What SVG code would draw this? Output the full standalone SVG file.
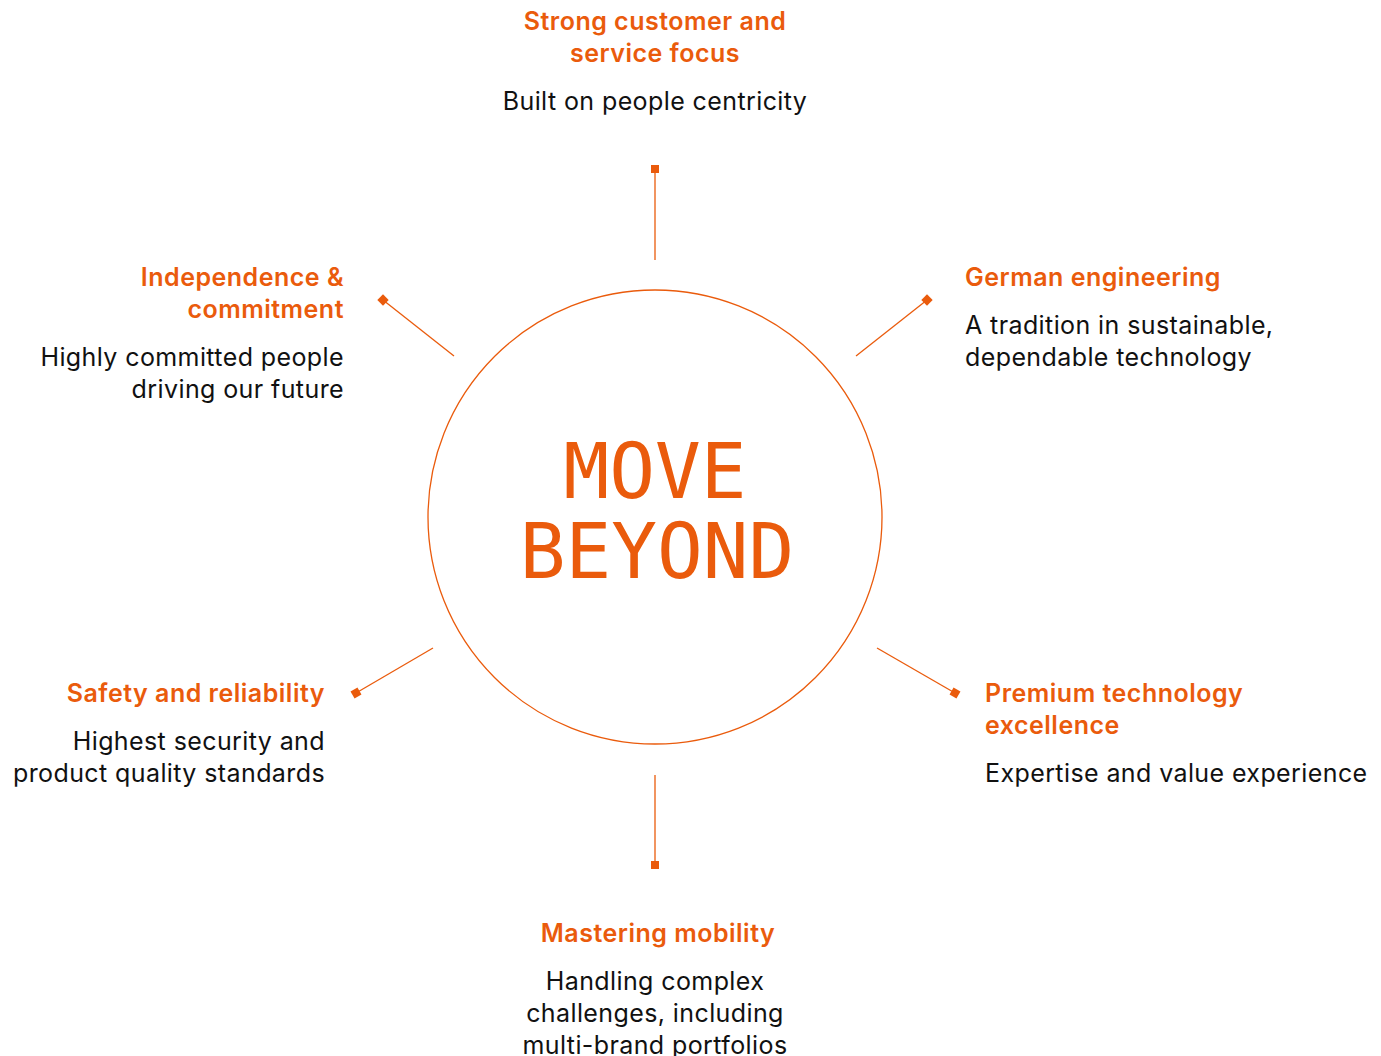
<svg xmlns="http://www.w3.org/2000/svg" width="1381" height="1056" viewBox="0 0 1381 1056">
  <style>
    .head { font-family: Inter, "Noto Sans", "Liberation Sans", sans-serif; font-size: 25px; font-weight: 600; letter-spacing: 0.5px; fill: #EA5B0C; }
    .body { font-family: Inter, "Noto Sans", "Liberation Sans", sans-serif; font-size: 25px; font-weight: 400; letter-spacing: 0.4px; fill: #111111; }
    .mid { text-anchor: middle; }
    .end { text-anchor: end; }
    .title { font-family: "DejaVu Sans Mono", "Liberation Mono", monospace; font-size: 76px; fill: #EA5B0C; text-anchor: middle; }
    .spoke { stroke: #EA5B0C; stroke-width: 1.3; fill: none; }
    .tip { fill: #EA5B0C; }
  </style>

  <!-- central hub -->
  <g id="hub">
    <circle cx="655" cy="517" r="227" fill="none" stroke="#EA5B0C" stroke-width="1.3"/>
    <text class="title" x="655" y="498">MOVE</text>
    <text class="title" x="657" y="578">BEYOND</text>
  </g>

  <!-- spokes from the hub to each value -->
  <g id="connectors">
    <line class="spoke" x1="655" y1="260" x2="655" y2="170"/>
    <rect class="tip" x="651" y="165" width="8" height="8"/>

    <line class="spoke" x1="454" y1="356" x2="383" y2="300"/>
    <rect class="tip" x="379" y="296" width="8" height="8" transform="rotate(45 383 300)"/>

    <line class="spoke" x1="856" y1="356" x2="927" y2="300"/>
    <rect class="tip" x="923" y="296" width="8" height="8" transform="rotate(45 927 300)"/>

    <line class="spoke" x1="433" y1="648" x2="356" y2="693"/>
    <rect class="tip" x="352" y="689" width="8" height="8" transform="rotate(60 356 693)"/>

    <line class="spoke" x1="877" y1="648" x2="955" y2="693"/>
    <rect class="tip" x="951" y="689" width="8" height="8" transform="rotate(30 955 693)"/>

    <line class="spoke" x1="655" y1="775" x2="655" y2="864"/>
    <rect class="tip" x="651" y="861" width="8" height="8"/>
  </g>

  <g id="customer-focus">
    <text class="head mid" x="655" y="30">Strong customer and</text>
    <text class="head mid" x="655" y="62">service focus</text>
    <text class="body mid" x="655" y="110">Built on people centricity</text>
  </g>

  <g id="independence">
    <text class="head end" x="344" y="286">Independence &amp;</text>
    <text class="head end" x="344" y="318">commitment</text>
    <text class="body end" x="344" y="366">Highly committed people</text>
    <text class="body end" x="344" y="398">driving our future</text>
  </g>

  <g id="german-engineering">
    <text class="head" x="965" y="286">German engineering</text>
    <text class="body" x="965" y="334">A tradition in sustainable,</text>
    <text class="body" x="965" y="366">dependable technology</text>
  </g>

  <g id="safety">
    <text class="head end" x="325" y="702">Safety and reliability</text>
    <text class="body end" x="325" y="750">Highest security and</text>
    <text class="body end" x="325" y="782">product quality standards</text>
  </g>

  <g id="premium-technology">
    <text class="head" x="985" y="702">Premium technology</text>
    <text class="head" x="985" y="734">excellence</text>
    <text class="body" x="985" y="782">Expertise and value experience</text>
  </g>

  <g id="mastering-mobility">
    <text class="head mid" x="658" y="942">Mastering mobility</text>
    <text class="body mid" x="655" y="990">Handling complex</text>
    <text class="body mid" x="655" y="1022">challenges, including</text>
    <text class="body mid" x="655" y="1054">multi-brand portfolios</text>
  </g>
</svg>
